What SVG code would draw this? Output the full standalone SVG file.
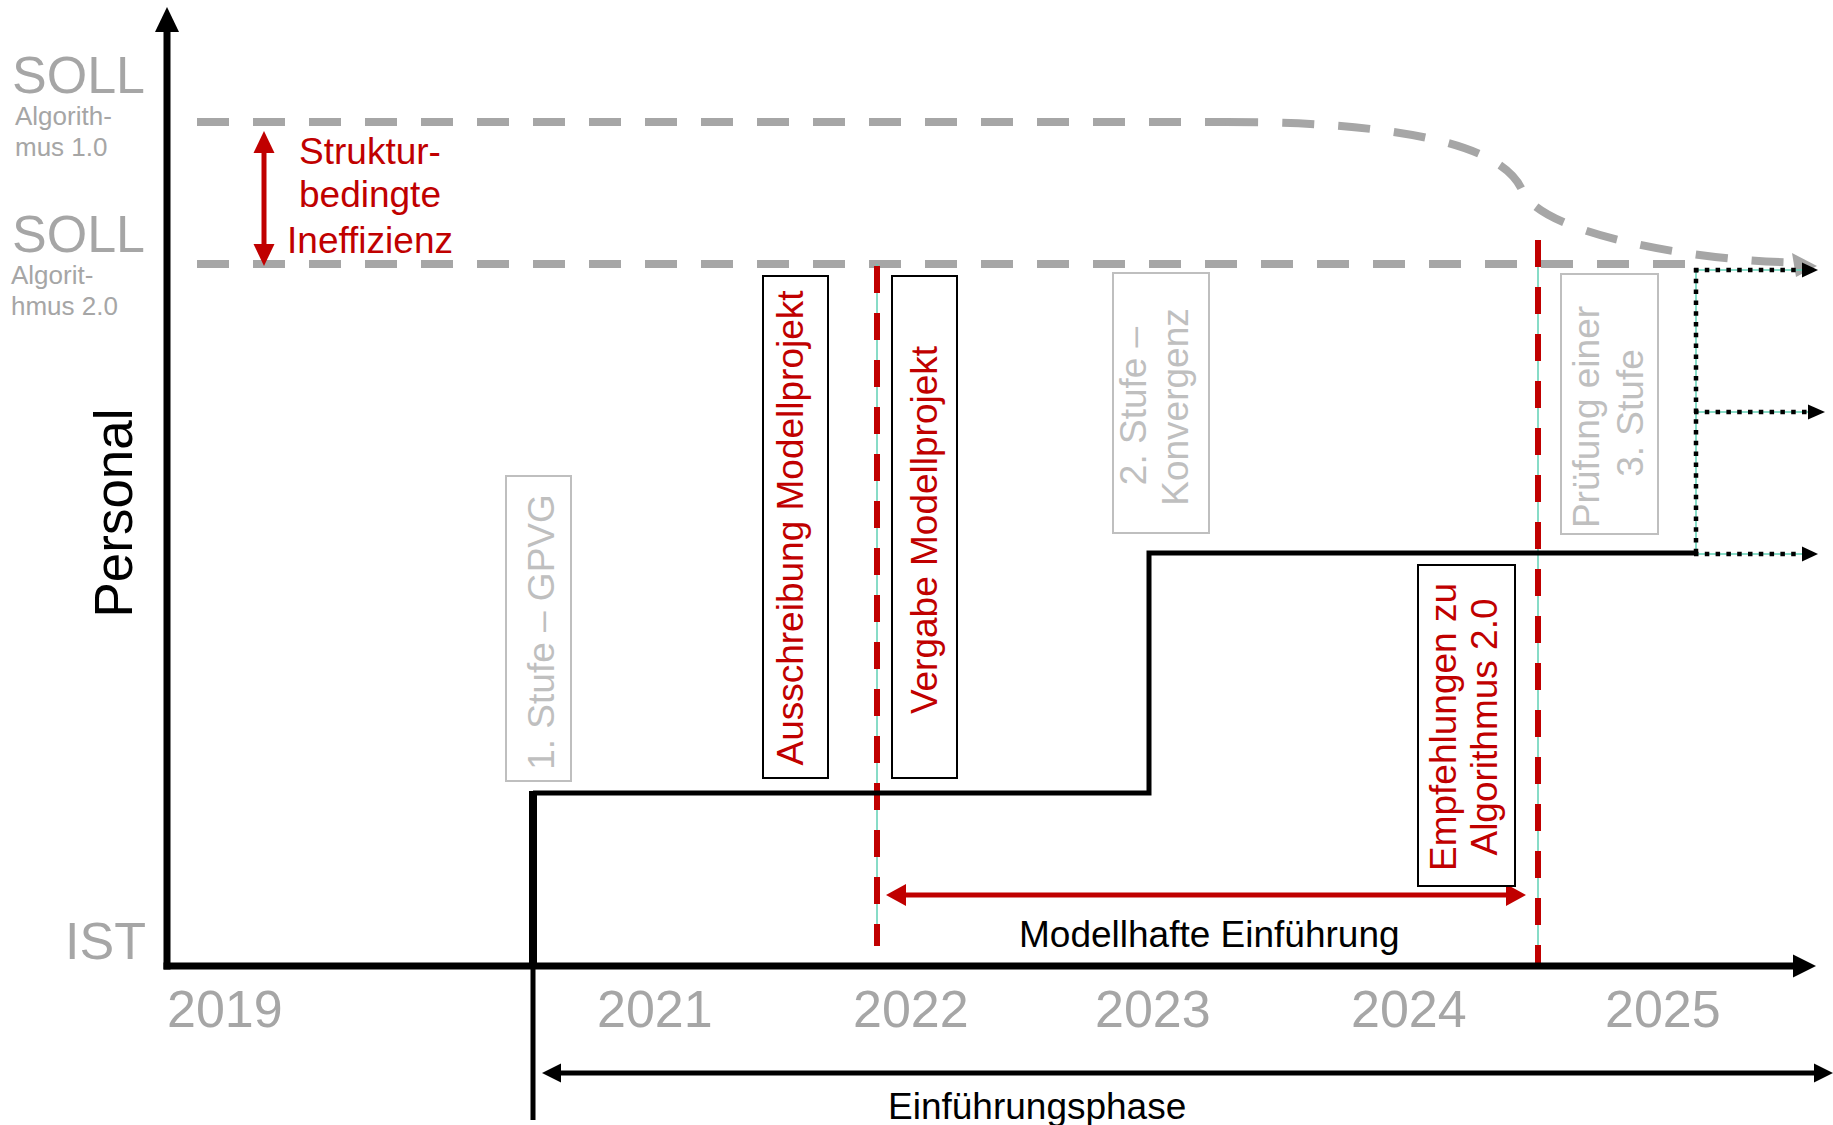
<svg xmlns="http://www.w3.org/2000/svg" width="1833" height="1125" viewBox="0 0 1833 1125">
<style>
text{font-family:"Liberation Sans",Arial,Helvetica,sans-serif}
.gray{fill:#a6a6a6}
.lgray{fill:#bfbfbf}
.red{fill:#c00000}
.blk{fill:#000}
.big{font-size:52px}
.sm{font-size:26px}
.lbl{font-size:37px}
.gdash{fill:none;stroke:#a6a6a6;stroke-width:8;stroke-dasharray:32 24}
.rdash{fill:none;stroke:#c00000;stroke-width:6;stroke-dasharray:27 20}
.cyan{fill:none;stroke:#5fd0b4;stroke-width:1.5}
.dot{fill:none;stroke:#000;stroke-width:4.5;stroke-dasharray:4.5 6.3}
.step{fill:none;stroke:#000;stroke-width:5;stroke-linejoin:miter}
.axis{fill:none;stroke:#000;stroke-width:7}
.gbox{fill:#fff;stroke:#bfbfbf;stroke-width:2}
.bbox{fill:#fff;stroke:#000;stroke-width:2}
.rline{fill:none;stroke:#c00000;stroke-width:5}
</style>
<rect x="0" y="0" width="1833" height="1125" fill="#fff"/>

<g id="axis-labels">
  <text class="gray big" x="12" y="93">SOLL</text>
  <text class="gray sm" x="15" y="125">Algorith-</text>
  <text class="gray sm" x="15" y="156">mus 1.0</text>
  <text class="gray big" x="12" y="252">SOLL</text>
  <text class="gray sm" x="11" y="284">Algorit-</text>
  <text class="gray sm" x="11" y="315">hmus 2.0</text>
  <text class="gray big" x="65" y="959">IST</text>
  <text class="blk" font-size="53" text-anchor="middle" transform="translate(132,513) rotate(-90)">Personal</text>
  <text class="gray big" x="167" y="1027">2019</text>
  <text class="gray big" x="597" y="1027">2021</text>
  <text class="gray big" x="853" y="1027">2022</text>
  <text class="gray big" x="1095" y="1027">2023</text>
  <text class="gray big" x="1351" y="1027">2024</text>
  <text class="gray big" x="1605" y="1027">2025</text>
</g>

<g id="connectors">
  <!-- SOLL lines -->
  <line class="gdash" x1="197" y1="122" x2="1226" y2="122"/>
  <path class="gdash" d="M1226,122 C1420,122 1505,150 1522,190 C1540,235 1700,261 1795,262.5"/>
  <line class="gdash" x1="197" y1="264" x2="1690" y2="264"/>
  <polygon fill="#a6a6a6" points="1817,266 1792,253 1796,277"/>

  <!-- red vertical markers -->
  <line class="cyan" x1="877" y1="264" x2="877" y2="946"/>
  <line class="rdash" x1="877" y1="266" x2="877" y2="946"/>
  <line class="cyan" x1="1538" y1="264" x2="1538" y2="966"/>
  <line class="rdash" x1="1538" y1="240" x2="1538" y2="966"/>

  <!-- structural inefficiency arrow -->
  <line class="rline" x1="264" y1="150" x2="264" y2="247"/>
  <polygon class="red" points="264,131 253.5,153 274.5,153"/>
  <polygon class="red" points="264,266 253.5,244 274.5,244"/>

  <!-- step line (Personal IST) -->
  <line stroke="#000" stroke-width="5" x1="533" y1="966" x2="533" y2="1120"/>
  <line stroke="#000" stroke-width="8" x1="533" y1="966" x2="533" y2="791"/>
  <polyline class="step" points="533,793 1149,793 1149,553 1695,553"/>

  <!-- dotted future options -->
  <line class="cyan" x1="1696" y1="270" x2="1696" y2="553"/>
  <line class="cyan" x1="1696" y1="270" x2="1805" y2="270"/>
  <line class="cyan" x1="1696" y1="412" x2="1810" y2="412"/>
  <line class="cyan" x1="1696" y1="554" x2="1805" y2="554"/>
  <line class="dot" x1="1696" y1="268" x2="1696" y2="553"/>
  <line class="dot" x1="1694" y1="270" x2="1804" y2="270"/>
  <line class="dot" x1="1694" y1="412" x2="1810" y2="412"/>
  <line class="dot" x1="1694" y1="554" x2="1804" y2="554"/>
  <polygon class="blk" points="1818,270 1802,262.5 1802,277.5"/>
  <polygon class="blk" points="1825,412 1808,404.5 1808,419.5"/>
  <polygon class="blk" points="1818,554 1802,546.5 1802,561.5"/>

  <!-- Modellhafte Einführung arrow -->
  <line class="rline" stroke-width="6" x1="904" y1="895" x2="1508" y2="895"/>
  <polygon class="red" points="886,895 906,884 906,906"/>
  <polygon class="red" points="1526,895 1506,884 1506,906"/>

  <!-- Einführungsphase arrow -->
  <line stroke="#000" stroke-width="5" x1="558" y1="1073" x2="1816" y2="1073"/>
  <polygon class="blk" points="542,1073 561,1063.5 561,1082.5"/>
  <polygon class="blk" points="1833,1073 1814,1063.5 1814,1082.5"/>

  <!-- axes -->
  <line class="axis" x1="167" y1="969.5" x2="167" y2="30"/>
  <polygon class="blk" points="167,7 155,32 179,32"/>
  <line class="axis" x1="163.5" y1="966" x2="1795" y2="966"/>
  <polygon class="blk" points="1816,966 1793,954.5 1793,977.5"/>
</g>

<g id="label-ineffizienz">
  <text class="red lbl" text-anchor="middle" x="370" y="164">Struktur-</text>
  <text class="red lbl" text-anchor="middle" x="370" y="207">bedingte</text>
  <text class="red lbl" text-anchor="middle" x="370" y="253">Ineffizienz</text>
</g>

<g id="node-stufe1">
  <rect class="gbox" x="506" y="476" width="65" height="305"/>
  <text class="lgray lbl" text-anchor="middle" transform="translate(554,632) rotate(-90)">1. Stufe – GPVG</text>
</g>

<g id="node-ausschreibung">
  <rect class="bbox" x="763" y="276" width="65" height="502"/>
  <text class="red lbl" text-anchor="middle" transform="translate(803,528) rotate(-90)">Ausschreibung Modellprojekt</text>
</g>

<g id="node-vergabe">
  <rect class="bbox" x="892" y="276" width="65" height="502"/>
  <text class="red lbl" text-anchor="middle" transform="translate(937,530) rotate(-90)">Vergabe Modellprojekt</text>
</g>

<g id="node-stufe2">
  <rect class="gbox" x="1113" y="273" width="96" height="260"/>
  <text class="lgray lbl" text-anchor="middle" transform="translate(1146,406) rotate(-90)">2. Stufe –</text>
  <text class="lgray lbl" text-anchor="middle" transform="translate(1188,407) rotate(-90)">Konvergenz</text>
</g>

<g id="node-pruefung">
  <rect class="gbox" x="1561" y="274" width="97" height="260"/>
  <text class="lgray lbl" text-anchor="middle" transform="translate(1599,417) rotate(-90)">Prüfung einer</text>
  <text class="lgray lbl" text-anchor="middle" transform="translate(1643,413) rotate(-90)">3. Stufe</text>
</g>

<g id="node-empfehlungen">
  <rect class="bbox" x="1418" y="565" width="97" height="321"/>
  <text class="red lbl" text-anchor="middle" transform="translate(1456,727) rotate(-90)">Empfehlungen zu</text>
  <text class="red lbl" text-anchor="middle" transform="translate(1497,727) rotate(-90)">Algorithmus 2.0</text>
</g>

<g id="label-modellhaft">
  <text class="blk" font-size="37" x="1019" y="947">Modellhafte Einführung</text>
</g>
<g id="label-einfuehrungsphase">
  <text class="blk" font-size="37" x="888" y="1119">Einführungsphase</text>
</g>
</svg>
